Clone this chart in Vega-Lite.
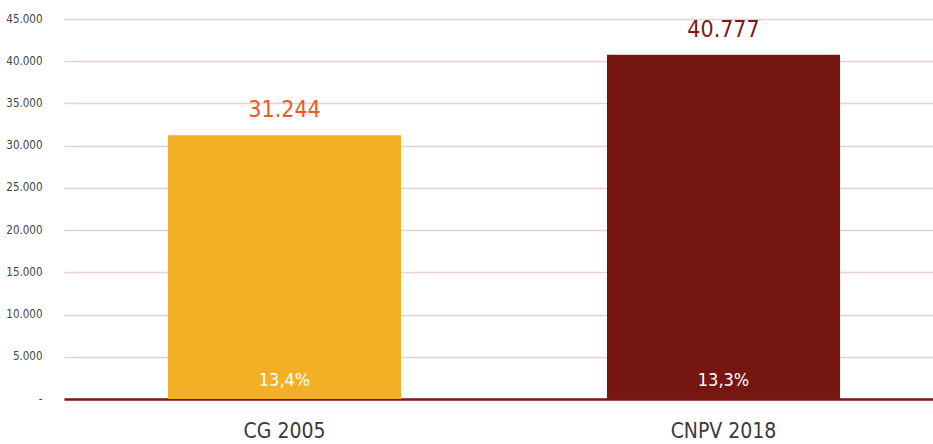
{
  "$schema": "https://vega.github.io/schema/vega-lite/v6.json",
  "width": 869,
  "height": 380,
  "autosize": {"type": "none"},
  "padding": {"left": 64, "top": 19, "right": 0, "bottom": 45},
  "background": "white",
  "config": {
    "view": {"stroke": null},
    "font": "DejaVu Sans Condensed",
    "locale": {"number": {"decimal": ",", "thousands": ".", "grouping": [3], "currency": ["", ""]}}
  },
  "data": {
    "values": [
      {"censo": "CG 2005", "valor": 31244, "pct": "13,4%", "lab": "31.244"},
      {"censo": "CNPV 2018", "valor": 40777, "pct": "13,3%", "lab": "40.777"}
    ]
  },
  "resolve": {"scale": {"color": "independent"}},
  "encoding": {
    "x": {
      "field": "censo", "type": "nominal", "sort": null,
      "scale": {"paddingInner": 0.469, "paddingOuter": 0.2243, "align": 0.528},
      "axis": {
        "title": null, "labelAngle": 0, "labelFontSize": 21, "labelColor": "#3a3a3a",
        "labelPadding": 21, "labelBaseline": "top", "ticks": false,
        "domainColor": "#7a1a14", "domainWidth": 2.5, "grid": false
      }
    }
  },
  "layer": [
    {
      "mark": {"type": "bar"},
      "encoding": {
        "y": {
          "field": "valor", "type": "quantitative",
          "scale": {"domain": [0, 45000], "nice": false},
          "axis": {
            "title": null, "values": [0, 5000, 10000, 15000, 20000, 25000, 30000, 35000, 40000, 45000],
            "labelExpr": "datum.value == 0 ? '-' : format(datum.value, ',')",
            "labelFontSize": 11.5, "labelColor": "#444444", "labelPadding": 22,
            "ticks": false, "domain": false,
            "gridColor": "#e6d2d4", "gridWidth": 1.5
          }
        },
        "color": {
          "field": "censo", "type": "nominal", "legend": null,
          "scale": {"domain": ["CG 2005", "CNPV 2018"], "range": ["#f4b024", "#761611"]}
        }
      }
    },
    {
      "mark": {"type": "text", "baseline": "bottom", "dy": -13, "fontSize": 23},
      "encoding": {
        "y": {"field": "valor", "type": "quantitative"},
        "text": {"field": "lab"},
        "color": {
          "field": "censo", "type": "nominal", "legend": null,
          "scale": {"domain": ["CG 2005", "CNPV 2018"], "range": ["#ea5a28", "#7a1a14"]}
        }
      }
    },
    {
      "mark": {"type": "text", "baseline": "bottom", "dy": -9, "fontSize": 18, "color": "white"},
      "encoding": {
        "y": {"datum": 0, "type": "quantitative"},
        "text": {"field": "pct"}
      }
    }
  ]
}
